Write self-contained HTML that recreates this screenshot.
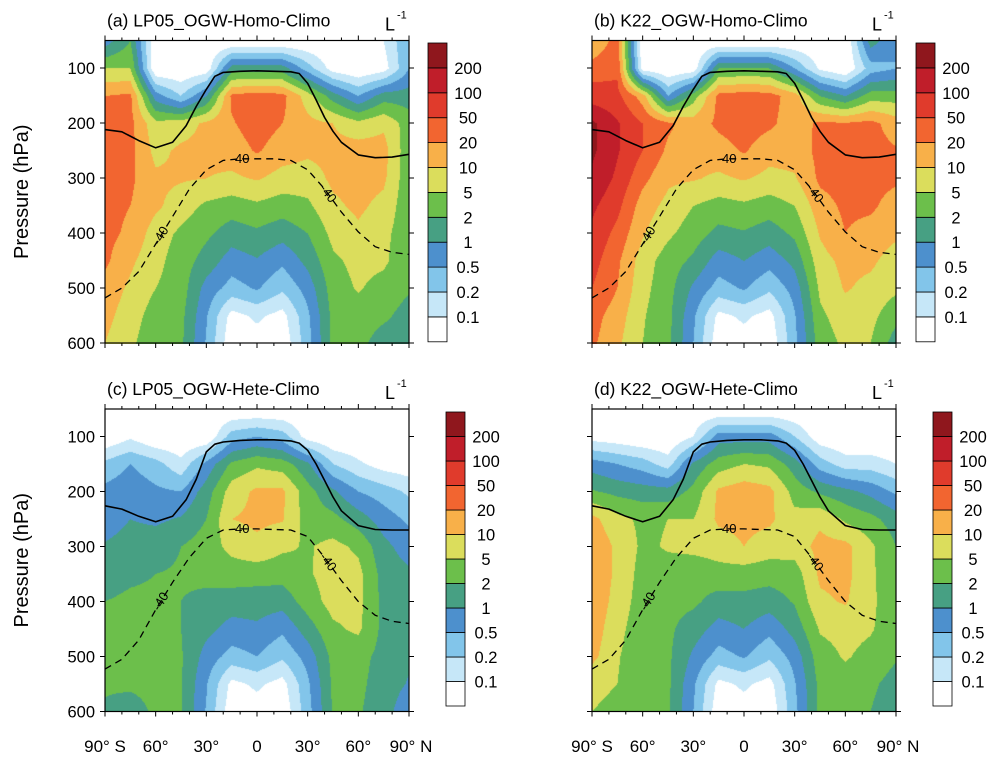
<!DOCTYPE html>
<html><head><meta charset="utf-8">
<style>
html,body{margin:0;padding:0;background:#fff;}
#wrap{position:relative;width:998px;height:765px;overflow:hidden;font-family:"Liberation Sans",Arial,sans-serif;}
canvas{position:absolute;}
svg{position:absolute;left:0;top:0;}
</style></head>
<body>
<div id="wrap">
<canvas id="cA"></canvas>
<canvas id="cB"></canvas>
<canvas id="cC"></canvas>
<canvas id="cD"></canvas>
<svg id="ov" width="998" height="765"></svg>
</div>
<script>
// ---- data ----
const latitudes = [-90,-75,-60,-45,-30,-15,0,15,30,45,60,75,90];
const pressures = [50,100,150,200,250,300,350,400,450,500,550,600];
const levelLabels = ['0.1','0.2','0.5','1','2','5','10','20','50','100','200'];
// field values expressed as colour-band level (0=<0.1 ... 11=>200)
const fieldA = [
[3.5,5,0,0,0,0,0,0,0,0,0,1,3],
[6,6,0,0,0.3,4.5,4.5,4.5,2.5,0.5,0,0.5,3],
[8,8.2,3.5,2,4,8.2,8.5,8.3,6.5,4.5,3,4.5,4.5],
[8.3,8.3,6.3,6.5,7.2,7.9,8.5,8,7.3,7,6.3,6.8,5.5],
[8.3,8.3,6.7,7.2,7.3,7.5,8.1,7.5,7.2,7.3,7.5,7.4,5.3],
[8.3,8.2,7.2,7.1,7,6.8,7.1,6.6,6.5,7.2,7.4,7.2,5.3],
[8.3,8,7.2,6.5,5.8,5.5,5.8,5.5,5.8,6.8,7.2,6.7,5.3],
[8.3,7.8,6.5,5.8,5.2,4.5,4.8,4.4,5,6.3,6.8,6.3,5.3],
[8.2,7.2,6.3,5.5,4.6,3.5,3.9,3.2,4.3,5.8,6.3,6.2,5.2],
[7.6,6.8,6,5.5,3.6,2.6,3.1,2.2,3.4,5.5,6.1,5.6,5.1],
[7.3,6.5,5.5,5.3,3.1,0.6,1.2,0.6,2.8,5.3,5.5,5.2,4.6],
[7,6.2,5.3,5.2,2.9,0.2,0.5,0.2,2.6,5.3,5.3,4.5,4.3]];
const fieldB = [
[7,8.5,0,0,0,0,0,0,0,0,0,4.5,3],
[8.5,8.8,0.5,0,0.3,5,5,5,3,0.8,0,2.5,3],
[9.5,9.3,7.5,3,5.5,8.3,8.5,8.4,7.5,5,4,5.5,5.5],
[11.2,10.1,9,8.2,7.5,8.2,8.5,8.2,7.5,8.2,8.1,8.3,7.5],
[11.2,10.1,9,7.8,7.4,7.6,8.1,7.4,7.4,8.3,8.4,8.4,8.1],
[10.8,9.8,8.3,7.2,7.1,6.8,7.1,6.7,6.9,8.2,8.4,8.4,8.2],
[10.2,9.3,7.5,6.7,6,5.6,5.8,5.5,6,7.6,8.2,8.2,7.5],
[9.8,8.7,7.1,6.2,5.5,4.7,4.9,4.5,5.2,7.1,8,7.6,7.2],
[9.4,8.2,6.5,5.5,4.8,3.5,4,3.4,4.3,6.6,7.3,7.2,6.5],
[9,8,6.3,5.4,3.8,2.6,3.1,2.2,3.4,6.2,7.1,6.7,6.2],
[8.4,7.5,6.1,5.3,3.2,0.7,1.2,0.6,2.9,5.8,6.5,6.3,5.3],
[8.2,7.2,6,5.3,3,0.3,0.5,0.2,2.7,5.5,6.2,6,4.5]];
const fieldC = [
[0,0,0,0,0,0,0,0,0,0,0,0,0],
[0,0.8,0,0,0,2.5,3,2.5,0.5,0,0,0,0],
[2.3,3,2.4,1.3,3.3,5.2,5.8,5.5,4.2,2,1.2,0.5,0.3],
[3.3,3.6,3.2,3,4.5,6.5,7.2,7.2,5.4,4.2,3,2.5,1.8],
[3.5,4,3.8,4.1,5,7,7.2,7.1,5.5,5.3,4.5,3.5,2.8],
[4.1,4.4,4.6,5,5.5,6.3,6.8,6.2,5.9,6.3,5.8,4.3,3.5],
[4.5,4.8,5,5.1,5.2,5.5,5.4,5.4,5.9,6.4,6.3,4.6,4.2],
[5,5.2,5.2,5,4.8,4.5,4.5,4.4,5.5,6.4,6.3,4.7,4.3],
[5.2,5.3,5.2,5,4.3,3.6,3.8,3.2,4.5,5.8,6.2,4.7,4.2],
[5.2,5.3,5.3,5.1,3.6,2.6,3,2.2,3.4,5.3,5.3,4.7,4.2],
[5.1,5.2,5.3,5.1,3.1,0.7,1.2,0.6,2.8,5.2,5.2,4.6,3.9],
[4.9,4.5,5.2,5.1,2.9,0.3,0.5,0.2,2.6,5.1,5.1,4.5,3.2]];
const fieldD = [
[0,0,0,0,0,0,0,0,0,0,0,0,0],
[0.5,0.3,0,0,1,3.5,3.5,3.5,2,0.3,0,0,0],
[3.5,3,2.5,1.5,4.2,5.5,6,5.8,4.5,2.5,1.5,1.5,1],
[5.1,4.7,4.5,4.4,5.3,7.2,7.6,7.3,5.6,4.8,4.3,3.7,2.8],
[7.3,6.3,5.8,6,6,7.2,7.3,7.2,6.3,6.8,5.8,5.3,4.5],
[7.8,6.8,5.8,6.1,6.3,6.5,7,6.5,6.5,7.3,7.3,6.2,5],
[7.8,6.8,5.6,5.6,5.3,5.6,5.5,5.4,5.5,7.2,7.3,6.2,5.2],
[7.8,6.6,5.5,5.3,5.2,4.6,4.7,4.5,5.1,6.8,7.1,6.2,5.4],
[7.6,6.3,5.4,5.2,4.5,3.6,4,3.3,4.4,6.1,6.3,6.1,5.4],
[7.3,6.1,5.3,5.2,3.8,2.6,3.1,2.2,3.4,5.6,6.1,5.7,5.1],
[6.2,6,5.2,5.2,3.2,0.7,1.2,0.6,2.9,5.3,5.6,5.2,4.6],
[6,5.8,5.2,5.2,3,0.3,0.5,0.2,2.7,5.3,5.3,5,4.3]];
const lineLat = [-90,-80,-70,-60,-50,-42,-36,-30,-25,-20,-10,0,10,20,25,30,35,40,45,50,60,70,80,90];
const tropAB = [212,216,232,245,235,205,170,139,115,108,106,105,106,107,110,128,158,190,215,235,258,263,262,257];
const tropCD = [226,232,245,255,245,215,178,128,114,110,107,106,106,108,112,125,150,180,210,235,262,269,270,270];
const isoLat = [-90,-80,-70,-60,-50,-40,-30,-20,-10,0,10,20,30,40,50,60,70,80,90];
const iso40AB = [518,500,470,420,370,320,285,268,265,265,265,268,285,320,362,398,425,435,439];
const iso40CD = [523,505,470,415,365,320,285,270,268,268,269,270,282,320,362,400,425,436,440];

const colors = ['#ffffff','#c6e7f8','#82c5ea','#4d90cd','#47a083','#6cbf4b','#dbdd5c','#f8b049','#f26530','#e03b2c','#c01e2a','#8f171d'];
const NS='http://www.w3.org/2000/svg';
const svg=document.getElementById('ov');
function mk(tag,attrs,parent){const e=document.createElementNS(NS,tag);for(const k in attrs)e.setAttribute(k,attrs[k]);(parent||svg).appendChild(e);return e;}

const panels=[
 {id:'cA',key:'a',x0:105,y0:40.5,field:fieldA,trop:tropAB,iso:iso40AB,title:'(a) LP05_OGW-Homo-Climo',cbx:428,cby:43,cbh:24.9,ylab:true,xlab:false},
 {id:'cB',key:'b',x0:592,y0:40.5,field:fieldB,trop:tropAB,iso:iso40AB,title:'(b) K22_OGW-Homo-Climo',cbx:916,cby:43,cbh:24.9,ylab:false,xlab:false},
 {id:'cC',key:'c',x0:105,y0:409,field:fieldC,trop:tropCD,iso:iso40CD,title:'(c) LP05_OGW-Hete-Climo',cbx:446,cby:412,cbh:24.5,ylab:true,xlab:true},
 {id:'cD',key:'d',x0:592,y0:409,field:fieldD,trop:tropCD,iso:iso40CD,title:'(d) K22_OGW-Hete-Climo',cbx:933,cby:412,cbh:24.5,ylab:false,xlab:true}];
const W=304,H=302.5;

panels.forEach(P=>{
  const xs=lat=>P.x0+(lat+90)/180*W;
  const ys=p=>P.y0+(p-50)/550*H;
  const cv=document.getElementById(P.id);
  cv.width=W;cv.height=Math.round(H);cv.style.left=P.x0+'px';cv.style.top=P.y0+'px';
  const ctx=cv.getContext('2d');const img=ctx.createImageData(cv.width,cv.height);
  const rgb=colors.map(c=>[parseInt(c.slice(1,3),16),parseInt(c.slice(3,5),16),parseInt(c.slice(5,7),16)]);
  const nl=latitudes.length,np=pressures.length;
  for(let j=0;j<cv.height;j++){
    const p=50+(j+0.5)/H*550;
    let fi=(p-pressures[0])/(pressures[np-1]-pressures[0])*(np-1);fi=Math.max(0,Math.min(np-1.0001,fi));
    const i0=Math.floor(fi),ty=fi-i0;
    for(let i=0;i<cv.width;i++){
      const lat=-90+(i+0.5)/W*180;
      let fx=(lat-latitudes[0])/(latitudes[nl-1]-latitudes[0])*(nl-1);fx=Math.max(0,Math.min(nl-1.0001,fx));
      const k0=Math.floor(fx),tx=fx-k0;
      const f=P.field;
      const v=(f[i0][k0]*(1-tx)+f[i0][k0+1]*tx)*(1-ty)+(f[i0+1][k0]*(1-tx)+f[i0+1][k0+1]*tx)*ty;
      const b=Math.max(0,Math.min(11,Math.floor(v)));
      const o=(j*cv.width+i)*4;img.data[o]=rgb[b][0];img.data[o+1]=rgb[b][1];img.data[o+2]=rgb[b][2];img.data[o+3]=255;
    }
  }
  ctx.putImageData(img,0,0);
  const g=mk('g',{});
  
  
  let d='';lineLat.forEach((la,i)=>{d+=(i?'L':'M')+xs(la).toFixed(1)+','+ys(P.trop[i]).toFixed(1);});
  const tl=mk('path',{d:d,fill:'none',stroke:'#000','stroke-width':1.6,'stroke-linejoin':'round'},g);
  
  
  d='';isoLat.forEach((la,i)=>{d+=(i?'L':'M')+xs(la).toFixed(1)+','+ys(P.iso[i]).toFixed(1);});
  const il=mk('path',{d:d,fill:'none',stroke:'#000','stroke-width':1.3,'stroke-dasharray':'7,5'},g);
  
  
  [[-10,0],[-57,-1],[42,1]].forEach(([la,mode])=>{
    let k=isoLat.findIndex(v=>v>=la);if(k<1)k=1;
    const t=(la-isoLat[k-1])/(isoLat[k]-isoLat[k-1]);
    const p=P.iso[k-1]+(P.iso[k]-P.iso[k-1])*t;
    const x=xs(la),y=ys(p);
    let ang=0;if(mode!==0){ang=Math.atan2(ys(P.iso[k])-ys(P.iso[k-1]),xs(isoLat[k])-xs(isoLat[k-1]))*180/Math.PI;}
    const tx=mk('text',{x:x,y:y+4,'font-size':13,'text-anchor':'middle',transform:'rotate('+ang.toFixed(1)+' '+x+' '+y+')'},g);
    tx.textContent='-40';
    
    
  });
  const fr=mk('rect',{x:P.x0,y:P.y0,width:W,height:H,fill:'none',stroke:'#000','stroke-width':1.2});
  
  
  for(let la=-90;la<=90;la+=10){
    const maj=la%30===0;const L=maj?5:3;const x=xs(la);
    mk('line',{x1:x,x2:x,y1:P.y0+H,y2:P.y0+H+L,stroke:'#000','stroke-width':1});
    mk('line',{x1:x,x2:x,y1:P.y0,y2:P.y0-L,stroke:'#000','stroke-width':1});
  }
  for(let p=100;p<=600;p+=100){
    const y=ys(p);
    mk('line',{x1:P.x0,x2:P.x0-5,y1:y,y2:y,stroke:'#000','stroke-width':1});
    mk('line',{x1:P.x0+W,x2:P.x0+W+5,y1:y,y2:y,stroke:'#000','stroke-width':1});
    if(P.ylab){const t=mk('text',{x:P.x0-10,y:y+6,'font-size':16.5,'text-anchor':'end'});t.textContent=p;
      
      }
  }
  if(P.ylab){
    const cy=P.y0+H/2;
    const t=mk('text',{x:28,y:cy,'font-size':20,'text-anchor':'middle',transform:'rotate(-90 28 '+cy+')'});
    t.textContent='Pressure (hPa)';
    
    
  }
  if(P.xlab){
    const labs=[[-90,'90° S'],[-60,'60°'],[-30,'30°'],[0,'0'],[30,'30°'],[60,'60°'],[90,'90° N']];
    labs.forEach(([la,s])=>{let x=xs(la);if(la===90)x+=2;
      const t=mk('text',{x:x,y:752,'font-size':17,'text-anchor':'middle'});t.textContent=s;
      
      });
  }
  const tt=mk('text',{x:P.x0+2,y:P.y0-14,'font-size':17.5});tt.textContent=P.title;
  
  
  const u=mk('text',{x:P.x0+W-24,y:P.y0-10,'font-size':18});u.textContent='L';
  
  
  const us=mk('text',{x:P.x0+W-12,y:P.y0-22,'font-size':11});us.textContent='-1';
  
  
  const cb=mk('g',{});
  
  
  for(let b=0;b<12;b++){
    const y=P.cby+(11-b)*P.cbh;
    const r=mk('rect',{x:P.cbx,y:y,width:19,height:P.cbh,fill:colors[b],stroke:'#000','stroke-width':0.8},cb);
    
    
  }
  levelLabels.forEach((s,i)=>{
    const y=P.cby+(11-i)*P.cbh;
    const t=mk('text',{x:P.cbx+40,y:y+6,'font-size':16.5,'text-anchor':'middle'},cb);t.textContent=s;
    
    
  });
});
</script>
</body></html>
